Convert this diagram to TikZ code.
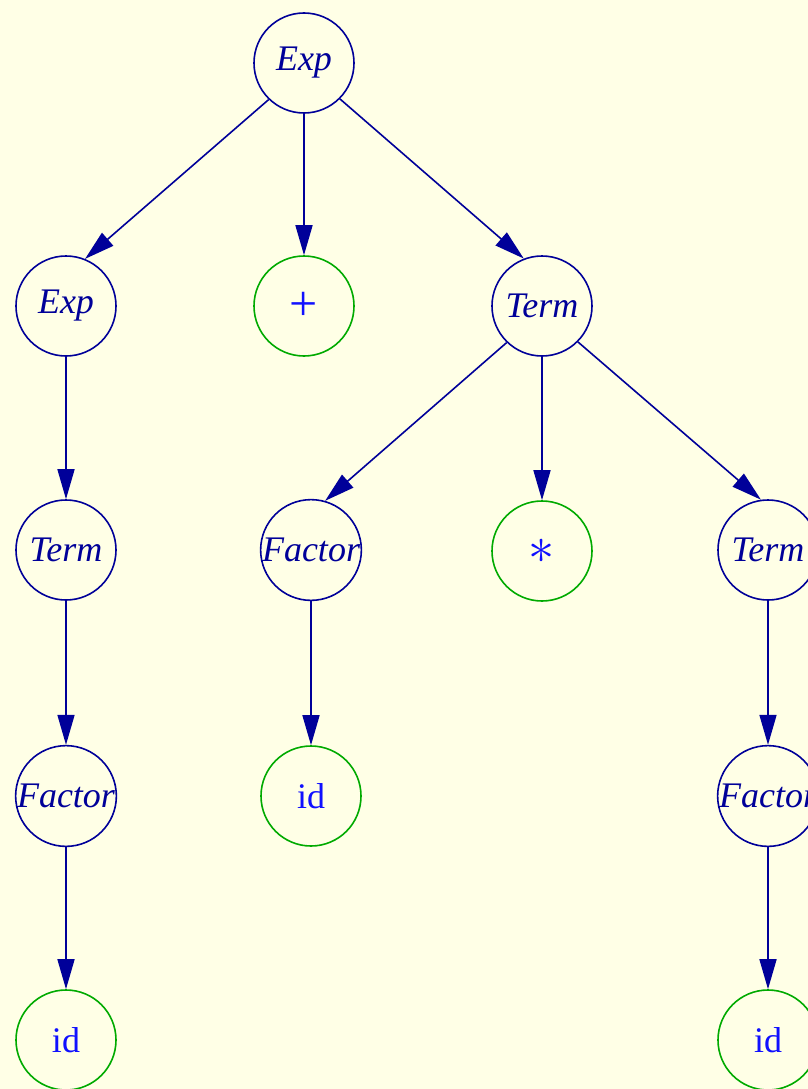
\documentclass[tikz,border=0pt]{standalone}
\usepackage{graphicx}
\usepackage{fontspec}
\setmainfont{Liberation Serif}
\usetikzlibrary{arrows.meta}
\definecolor{bgcol}{HTML}{FFFFE6}
\definecolor{navy}{HTML}{000099}
\definecolor{termgreen}{HTML}{00AA00}
\definecolor{termblue}{HTML}{1010FF}
\begin{document}
\begin{tikzpicture}[x=1pt,y=-1pt,
  nt/.style={circle,draw=navy,line width=1.6pt,minimum size=100pt,inner sep=0pt,
    text=navy,font=\fontsize{36}{36}\selectfont\itshape},
  tm/.style={circle,draw=termgreen,line width=1.6pt,minimum size=100pt,inner sep=0pt,
    text=termblue,font=\fontsize{36}{36}\selectfont},
  edge/.style={draw=navy,line width=1.6pt,-{Triangle[length=30pt,width=17pt]}}]
\fill[bgcol] (0,0) rectangle (808,1089);
\useasboundingbox (0,0) rectangle (808,1089);
% level 0
\node[nt] (e0) at (304,63) {Exp};
% level 1
\node[nt] (e1) at (66,306) {Exp};
\node[tm] (plus) at (304,306) {\fontsize{50}{50}\selectfont +};
\node[nt] (t1) at (542,306) {Term};
% level 2
\node[nt] (t2) at (66,550) {Term};
\node[nt] (f2) at (311,550) {Factor};
\node[tm] (star) at (542,551) {\scalebox{2.1}{$\ast$}};
\node[nt] (t3) at (768,550) {Term};
% level 3
\node[nt] (f3) at (66,796) {Factor};
\node[tm] (id1) at (311,796) {id};
\node[nt] (f4) at (768,796) {Factor};
% level 4
\node[tm] (id2) at (66,1040) {id};
\node[tm] (id3) at (768,1040) {id};
% edges
\draw[edge] (e0.-134) -- (e1.68);
\draw[edge] (e0) -- (plus);
\draw[edge] (e0.-45) -- (t1.111);
\draw[edge] (e1) -- (t2);
\draw[edge] (t1.-134) -- (f2.74);
\draw[edge] (t1) -- (star);
\draw[edge] (t1.-45) -- (t3.98);
\draw[edge] (t2) -- (f3);
\draw[edge] (f2) -- (id1);
\draw[edge] (t3) -- (f4);
\draw[edge] (f3) -- (id2);
\draw[edge] (f4) -- (id3);
\end{tikzpicture}
\end{document}
